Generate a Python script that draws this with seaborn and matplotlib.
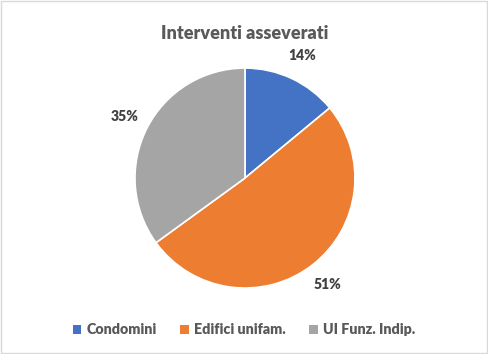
import matplotlib
matplotlib.use("Agg")
import matplotlib.pyplot as plt
import seaborn as sns
from matplotlib.patches import Rectangle, Patch

categories = ["Condomini", "Edifici unifam.", "UI Funz. Indip."]
values = [14, 51, 35]
colors = ["#4472C4", "#ED7D31", "#A5A5A5"]
title = "Interventi asseverati"

sns.set_theme(style="white")
plt.rcParams["font.family"] = ["Lato", "DejaVu Sans"]

fig = plt.figure(figsize=(4.88, 3.54), dpi=100)
fig.patch.set_facecolor("white")
fig.add_artist(Rectangle((0.002, 0.003), 0.995, 0.993, transform=fig.transFigure,
                         fill=False, edgecolor="#D9D9D9", linewidth=1))

ax = fig.add_axes([0.502 - 0.2254, 0.497 - 0.3107, 0.4508, 0.6215])
wedges, texts, autotexts = ax.pie(
    values, colors=colors, startangle=90, counterclock=False,
    autopct=lambda p: f"{p:.0f}%", pctdistance=1.23,
    wedgeprops=dict(edgecolor="white", linewidth=1.2),
    textprops=dict(fontsize=10, fontweight="heavy", color="#404040"),
)
ax.set_xlim(-1, 1)
ax.set_ylim(-1, 1)
ax.set_aspect("equal")
for t in autotexts:
    t.set_clip_on(False)

fig.text(0.502, 0.906, title, ha="center", va="center", fontsize=13,
         fontweight="heavy", color="#595959")

handles = [Patch(facecolor=c, edgecolor="none") for c in colors]
fig.legend(handles, categories, loc="center", bbox_to_anchor=(0.5, 0.068), ncol=3,
           frameon=False, handlelength=0.6, handleheight=0.6, handletextpad=0.4,
           columnspacing=1.6, prop=dict(size=10.3, weight="heavy"), labelcolor="#595959")

fig.savefig("out.png", dpi=100)
